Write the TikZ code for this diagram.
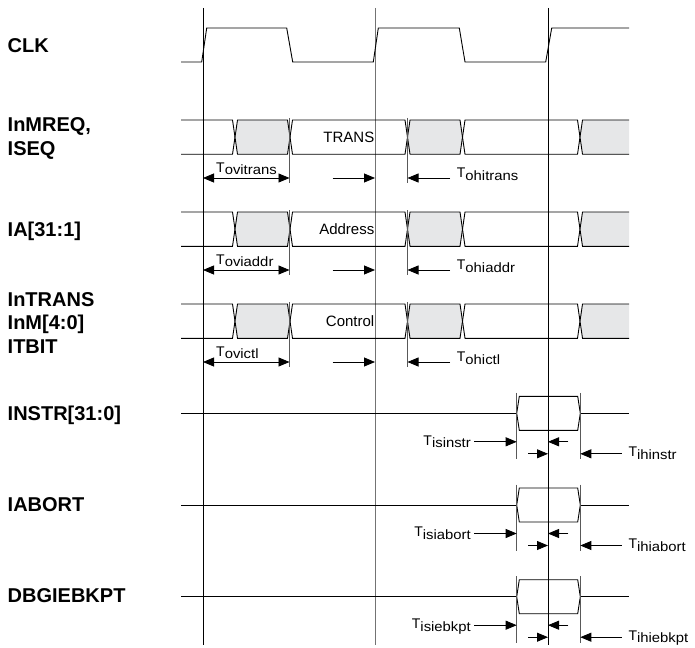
\documentclass[tikz,border=0pt]{standalone}
\usepackage{fontspec}
\setmainfont{Liberation Sans}
\usepackage{graphicx}
\usetikzlibrary{arrows.meta}
\definecolor{busgray}{HTML}{E6E7E8}
\newcommand\tname[1]{{\fontsize{14}{14}\selectfont T\raisebox{-2.5pt}{\scalebox{1.1}[1]{\fontsize{13.5}{13.5}\selectfont #1}}}}
\tikzset{
  sig/.style={line width=0.9pt, black},
  tickln/.style={line width=0.7pt, black!65},
  tarr/.style={line width=0.8pt, -{Triangle[length=11pt,width=9pt]}},
  darr/.style={line width=0.8pt, {Triangle[length=11pt,width=9pt]}-{Triangle[length=11pt,width=9pt]}},
  lab/.style={font=\fontsize{20}{23.4}\selectfont\bfseries, anchor=west, inner sep=0pt, align=left},
  bustext/.style={font=\fontsize{15}{15}\selectfont, anchor=east, inner sep=0pt},
  tlab/.style={inner sep=0pt}
}
\begin{document}
\begin{tikzpicture}[x=1pt,y=-1pt]
\useasboundingbox (0,0) rectangle (695,647);
% main vertical reference lines
\draw[sig] (203,8) coordinate (v1t) -- (203,645) coordinate (v1b);
\draw[line width=0.9pt, black!55] (375,8) coordinate (v2t) -- (375,645) coordinate (v2b);
\draw[sig] (548,8) coordinate (v3t) -- (548,645) coordinate (v3b);
% labels
\node[lab] (lclk) at (7.5,46) {CLK};
\node[lab] (lmreq) at (7.5,138.3) {InMREQ,\\ISEQ};
\node[lab] (lia) at (7.5,231.5) {IA[31:1]};
\node[lab] (ltrans) at (7.5,322.7) {InTRANS\\InM[4:0]\\ITBIT};
\node[lab] (linstr) at (7.5,415.5) {INSTR[31:0]};
\node[lab] (labort) at (7.5,504.5) {IABORT};
\node[lab] (ldbg) at (7.5,596.1) {DBGIEBKPT};
% clock
\draw[sig] (181,62) -- (201.7,62) -- (206.7,28) -- (286.7,28) -- (292.7,62)
  -- (373.3,62) -- (378.3,28) -- (459.3,28) -- (465,62) -- (545.7,62) -- (551.7,28) -- (629,28);
% buses
\foreach \ty/\txt/\ovi/\ohi in {120/TRANS/ovitrans/ohitrans, 212/Address/oviaddr/ohiaddr, 304/Control/ovictl/ohictl}{
  \pgfmathsetmacro\by{\ty+34.3}
  \pgfmathsetmacro\my{\ty+17.15}
  \pgfmathsetmacro\ay{\ty+58}
  \draw[sig] (181,\ty) -- (232.5,\ty) -- (235,\my) -- (232.5,\by) -- (181,\by);
  \filldraw[sig, fill=busgray] (235,\my) -- (237.5,\ty) -- (287.5,\ty) -- (290,\my) -- (287.5,\by) -- (237.5,\by) -- cycle;
  \draw[sig] (290,\my) -- (292.5,\ty) -- (405,\ty) -- (407.5,\my) -- (405,\by) -- (292.5,\by) -- cycle;
  \filldraw[sig, fill=busgray] (407.5,\my) -- (410,\ty) -- (460,\ty) -- (462.5,\my) -- (460,\by) -- (410,\by) -- cycle;
  \draw[sig] (462.5,\my) -- (465,\ty) -- (577.5,\ty) -- (580,\my) -- (577.5,\by) -- (465,\by) -- cycle;
  \fill[busgray] (629,\ty) -- (582.5,\ty) -- (580,\my) -- (582.5,\by) -- (629,\by) -- cycle;
  \draw[sig] (629,\ty) -- (582.5,\ty) -- (580,\my) -- (582.5,\by) -- (629,\by);
  \node[bustext] at (374.5,\my) {\txt};
  \draw[tickln] (289.5,\ty-2) -- (289.5,\ty+63);
  \draw[tickln] (407.5,\ty-2) -- (407.5,\ty+63);
  \draw[darr] (203,\ay) -- (289.5,\ay);
  \draw[tarr] (332.7,\ay) -- (375,\ay);
  \draw[tarr] (450,\ay) -- (407.5,\ay);
  \node[tlab, anchor=base west] at (216,\ay-6) {\tname{\ovi}};
  \node[tlab, anchor=base west] at (456.7,\ay-0.5) {\tname{\ohi}};
}
% pulses
\foreach \my/\is/\ih in {413.3/isinstr/ihinstr, 505/isiabort/ihiabort, 596.7/isiebkpt/ihiebkpt}{
  \pgfmathsetmacro\ra{\my+28.5}
  \pgfmathsetmacro\rb{\my+40.5}
  \draw[sig] (181,\my) -- (516.7,\my);
  \draw[sig] (580.3,\my) -- (629,\my);
  \draw[sig] (516.7,\my) -- (519.3,\my-17) -- (577.7,\my-17) -- (580.3,\my) -- (577.7,\my+17) -- (519.3,\my+17) -- cycle;
  \draw[tickln] (516.7,\my-20.5) -- (516.7,\my+46);
  \draw[tickln] (580.3,\my-20.5) -- (580.3,\my+46);
  \draw[tarr] (474,\ra) -- (516.7,\ra);
  \draw[tarr] (568.3,\ra) -- (548,\ra);
  \draw[tarr] (528.3,\rb) -- (548,\rb);
  \draw[tarr] (621.7,\rb) -- (580.3,\rb);
  \node[tlab, anchor=base east] at (471,\ra+3.3) {\tname{\is}};
  \node[tlab, anchor=base west] at (628.3,\rb+3) {\tname{\ih}};
}
\end{tikzpicture}
\end{document}
